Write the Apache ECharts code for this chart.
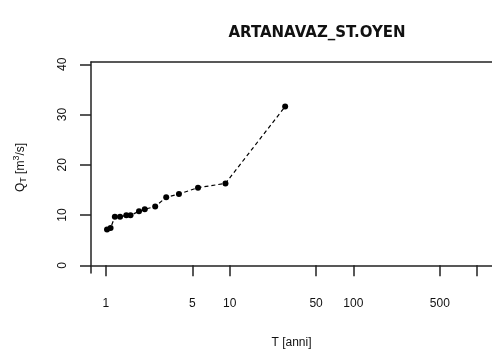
<!DOCTYPE html>
<html>
<head>
<meta charset="utf-8">
<script src="https://cdn.jsdelivr.net/npm/echarts@6/dist/echarts.min.js"></script>
<style>html,body{margin:0;padding:0;background:#fff}#c{width:492px;height:355px}</style>
</head>
<body>
<div id="c"></div>
<script>
var titleText = 'ARTANAVAZ_ST.OYEN';
var returnPeriods = [1.02, 1.09, 1.18, 1.30, 1.46, 1.58, 1.85, 2.06, 2.50, 3.07, 3.89, 5.55, 9.25, 28.1];
var discharges = [7.15, 7.45, 9.65, 9.65, 9.95, 9.95, 10.75, 11.15, 11.7, 13.55, 14.2, 15.45, 16.3, 31.6];
var xTicks = [1, 5, 10, 50, 100, 500, 1000];
var xLabels = [1, 5, 10, 50, 100, 500];
var yTicks = [0, 10, 20, 30, 40];

var pts = returnPeriods.map(function (t, i) { return [t, discharges[i]]; });
var FONT = 'Liberation Sans';
var LINE = {color: '#222', width: 1.5};
var chart = echarts.init(document.getElementById('c'), null, {renderer: 'canvas'});
chart.setOption({
  animation: false,
  backgroundColor: '#fff',
  title: {
    text: titleText,
    left: 312, top: 21, textAlign: 'center',
    textStyle: {fontFamily: 'DejaVu Sans', fontWeight: 'bold', fontSize: 15, color: '#111'}
  },
  grid: {left: 91, top: 62, width: 404, height: 211, show: false},
  xAxis: [{
    type: 'log', logBase: 10,
    min: 0.757, max: 1321,
    name: 'T [anni]', nameLocation: 'middle', nameGap: 64,
    nameTextStyle: {fontFamily: FONT, fontSize: 12, color: '#111'},
    axisLine: {show: true, lineStyle: LINE},
    axisTick: {show: true, length: 11, inside: false, customValues: xTicks, lineStyle: LINE},
    axisLabel: {show: true, customValues: xLabels, margin: 25, fontFamily: FONT, fontSize: 12, color: '#111',
      formatter: function (v) { return String(Math.round(v)); }},
    splitLine: {show: false}, minorTick: {show: false}
  }, {
    type: 'log', logBase: 10, position: 'top',
    min: 0.757, max: 1321,
    axisLine: {show: true, lineStyle: LINE},
    axisTick: {show: false}, axisLabel: {show: false}, splitLine: {show: false}
  }],
  yAxis: {
    type: 'value', min: -1.53, max: 40.46,
    name: '{q|Q}{s|T} {q|[m}{p|3}{q|/s]}', nameLocation: 'middle', nameGap: 62, nameRotate: 90,
    nameTextStyle: {fontFamily: FONT, fontSize: 12, color: '#111',
      rich: {
        q: {fontFamily: FONT, fontSize: 12, color: '#111', verticalAlign: 'middle'},
        s: {fontFamily: FONT, fontSize: 9, color: '#111', padding: [6, 0, 0, 0]},
        p: {fontFamily: FONT, fontSize: 9, color: '#111', padding: [0, 0, 8, 0]}
      }},
    axisLine: {show: true, lineStyle: LINE},
    axisTick: {show: true, length: 11, inside: false, customValues: yTicks, lineStyle: LINE},
    axisLabel: {show: true, customValues: yTicks, rotate: 90, margin: 22, fontFamily: FONT, fontSize: 12, color: '#111'},
    splitLine: {show: false}
  },
  series: [{
    type: 'line',
    xAxisIndex: 0,
    data: pts,
    symbol: 'circle', symbolSize: 6,
    itemStyle: {color: '#000'},
    lineStyle: {color: '#000', width: 1.2, type: [4, 3]}
  }]
});
</script>
</body>
</html>
